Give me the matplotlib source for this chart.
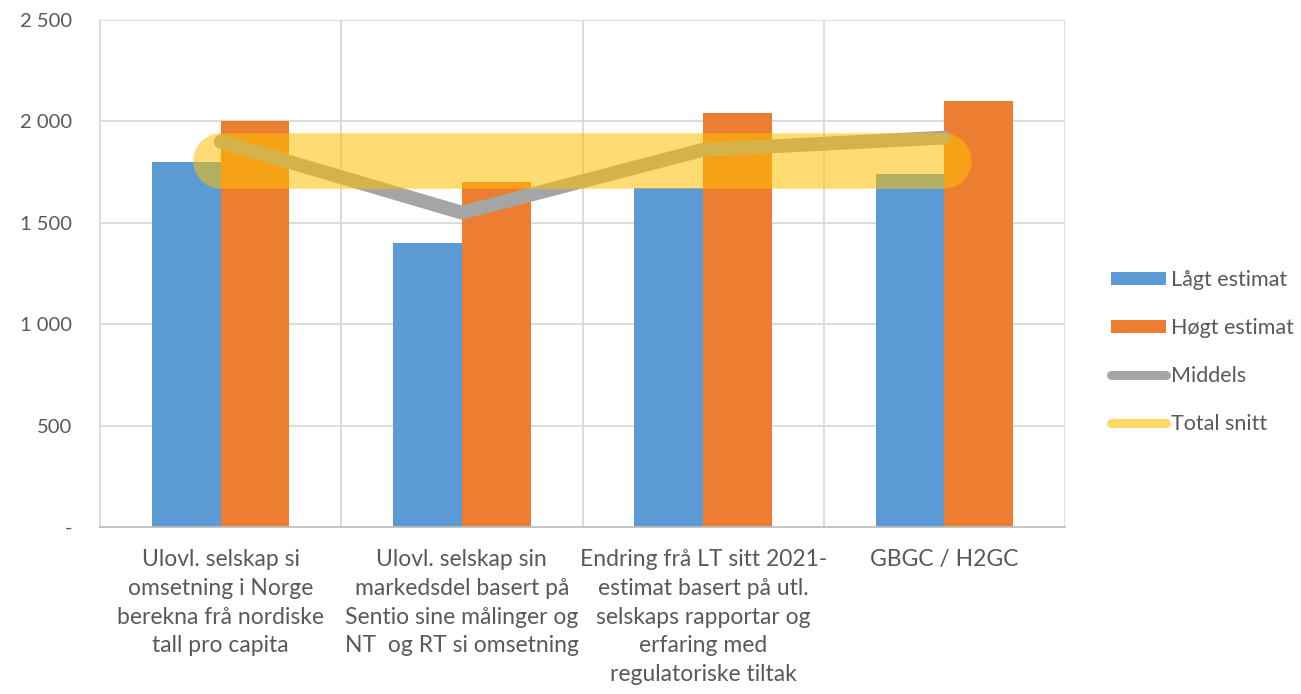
import matplotlib
matplotlib.use("Agg")
import numpy as np
import matplotlib.pyplot as plt
from matplotlib import font_manager
from matplotlib.lines import Line2D
from matplotlib.patches import Patch

# --- data ---
categories = [
    "Ulovl. selskap si\nomsetning i Norge\nberekna frå nordiske\ntall pro capita",
    "Ulovl. selskap sin\nmarkedsdel basert på\nSentio sine målinger og\nNT  og RT si omsetning",
    "Endring frå LT sitt 2021-\nestimat basert på utl.\nselskaps rapportar og\nerfaring med\nregulatoriske tiltak",
    "GBGC / H2GC",
]
lagt = [1800, 1400, 1670, 1740]
hogt = [2000, 1700, 2040, 2100]
middels = [1900, 1550, 1860, 1920]
total_snitt = [1805, 1805, 1805, 1805]
yticks = [0, 500, 1000, 1500, 2000, 2500]
ytick_labels = ["-", "500", "1 000", "1 500", "2 000", "2 500"]
series_names = ["Lågt estimat", "Høgt estimat", "Middels", "Total snitt"]

blue = "#5B9BD5"
orange = "#ED7D31"
grey = "#A5A5A5"
yellow = "#FFC000"
text_col = "#595959"
grid_col = "#D9D9D9"

names = {f.name for f in font_manager.fontManager.ttflist}
base_font = "Lato" if "Lato" in names else "DejaVu Sans"
narrow_font = "Liberation Sans Narrow" if "Liberation Sans Narrow" in names else base_font
plt.rcParams["font.family"] = [base_font, "DejaVu Sans"]

fig = plt.figure(figsize=(13.01, 6.94), dpi=100)
ax = fig.add_axes([100 / 1301, (694 - 527) / 694, 965 / 1301, 507 / 694])

x = np.arange(len(categories))
w = 0.285

ax.bar(x - w / 2, lagt, width=w, color=blue, zorder=2)
ax.bar(x + w / 2, hogt, width=w, color=orange, zorder=2)
ax.plot(x, middels, color=grey, lw=10, solid_capstyle="round",
        solid_joinstyle="round", zorder=3)
ax.plot(x, total_snitt, color=yellow, lw=40, alpha=0.55,
        solid_capstyle="round", zorder=4)

ax.set_xlim(-0.5, len(categories) - 0.5)
ax.set_ylim(0, 2500)
ax.set_yticks(yticks)
ax.set_yticklabels(ytick_labels)
ax.set_xticks(x)
ax.set_xticklabels(categories, family=[narrow_font, "DejaVu Sans"],
                   fontsize=16.5, linespacing=1.45, va="top")

# gridlines: horizontal at ticks, vertical at category boundaries
for yv in yticks[1:]:
    ax.axhline(yv, color=grid_col, lw=1.3, zorder=1)
for xb in np.arange(0.5, len(categories) - 0.5, 1):
    ax.axvline(xb, color=grid_col, lw=1.3, zorder=1)
ax.axvline(len(categories) - 0.5, color=grid_col, lw=1.3, zorder=1)

for side in ["top", "right"]:
    ax.spines[side].set_visible(False)
ax.spines["left"].set_color(grid_col)
ax.spines["left"].set_linewidth(1.3)
ax.spines["bottom"].set_color("#BFBFBF")
ax.spines["bottom"].set_linewidth(1.3)

ax.tick_params(axis="both", length=0, colors=text_col)
ax.tick_params(axis="y", labelsize=14.5, pad=20)
ax.tick_params(axis="x", labelsize=16.5, pad=16)

handles = [
    Patch(facecolor=blue, edgecolor="none"),
    Patch(facecolor=orange, edgecolor="none"),
    Line2D([0], [0], color=grey, lw=6.5, solid_capstyle="round"),
    Line2D([0], [0], color=yellow, lw=6.5, alpha=0.6, solid_capstyle="round"),
]
fig.legend(
    handles,
    series_names,
    loc="center left",
    bbox_to_anchor=(1092 / 1301, 1 - 352 / 694),
    frameon=False,
    fontsize=15.5,
    handlelength=2.55,
    handleheight=0.5,
    handletextpad=0.2,
    labelspacing=1.3,
    labelcolor=text_col,
)

fig.savefig("out.png", dpi=100)
